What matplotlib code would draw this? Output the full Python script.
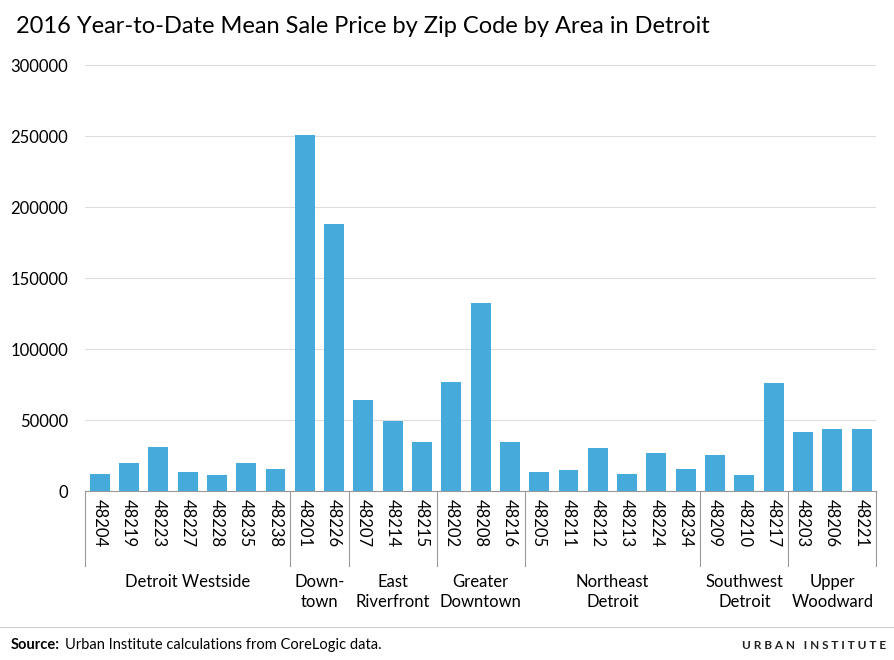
import numpy as np
import matplotlib.pyplot as plt

plt.rcParams['font.family'] = ['Lato', 'DejaVu Sans']

zips = ['48204', '48219', '48223', '48227', '48228', '48235', '48238',
        '48201', '48226',
        '48207', '48214', '48215',
        '48202', '48208', '48216',
        '48205', '48211', '48212', '48213', '48224', '48234',
        '48209', '48210', '48217',
        '48203', '48206', '48221']
prices = [12000, 20000, 31000, 13500, 11500, 20000, 15500,
          251000, 188000,
          64000, 49500, 34500,
          77000, 132500, 34500,
          13500, 15000, 30500, 12000, 27000, 15500,
          25500, 11500, 76000,
          41500, 44000, 44000]
areas = ['Detroit Westside', 'Down-\ntown', 'East\nRiverfront', 'Greater\nDowntown',
         'Northeast\nDetroit', 'Southwest\nDetroit', 'Upper\nWoodward']
area_sizes = [7, 2, 3, 3, 6, 3, 3]

fig = plt.figure(figsize=(8.95, 6.6), dpi=100)
ax = fig.add_axes([0.095, 0.256, 0.884, 0.6455])
x = np.arange(len(zips))
ax.bar(x, prices, width=0.68, color='#46abdb', zorder=3)
ax.set_xlim(-0.5, len(zips) - 0.5)
ax.set_ylim(0, 300000)
ax.set_yticks(range(0, 300001, 50000))
ax.tick_params(axis='y', length=0, labelsize=12, pad=12)
ax.grid(axis='y', color='#dddddd', lw=0.8, zorder=0)
for s in ['top', 'right', 'left']:
    ax.spines[s].set_visible(False)
ax.spines['bottom'].set_color('#999999')
ax.set_xticks(x)
ax.set_xticklabels(zips, rotation=270, fontsize=12)
ax.tick_params(axis='x', length=0, pad=6)

trans = ax.get_xaxis_transform()
start = 0
for name, n in zip(areas, area_sizes):
    end = start + n
    ax.plot([start - 0.5, start - 0.5], [0, -0.175], transform=trans,
            color='#999999', lw=0.8, clip_on=False)
    ax.text((start + end - 1) / 2, -0.195, name, transform=trans,
            ha='center', va='top', fontsize=12, linespacing=1.3)
    start = end
ax.plot([start - 0.5, start - 0.5], [0, -0.175], transform=trans,
        color='#999999', lw=0.8, clip_on=False)

fig.text(0.018, 0.96, '2016 Year-to-Date Mean Sale Price by Zip Code by Area in Detroit',
         fontsize=17, va='center')
fig.text(0.012, 0.022, 'Source:', fontsize=10.5, va='center', fontweight='bold')
fig.text(0.073, 0.022, 'Urban Institute calculations from CoreLogic data.',
         fontsize=10.5, va='center')
fig.text(0.99, 0.022, 'U R B A N   I N S T I T U T E', fontsize=8.5, ha='right', va='center',
         fontweight='bold', color='#222222')
fig.add_artist(plt.Line2D([0, 1], [0.05, 0.05], color='#cccccc', lw=0.8))
fig.savefig('out.png')
